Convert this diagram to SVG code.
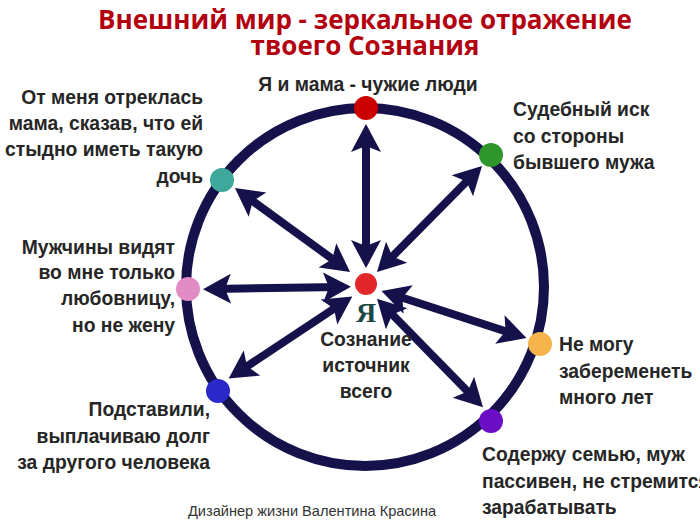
<svg xmlns="http://www.w3.org/2000/svg" width="700" height="525" viewBox="0 0 700 525">
<defs>
<marker id="ah" viewBox="0 -16 29 32" refX="18" refY="0" markerWidth="29" markerHeight="32" markerUnits="userSpaceOnUse" orient="auto-start-reverse">
<path d="M28,0 L0,-15 L6,0 L0,15 Z" fill="#15114a"/>
</marker>
</defs>
<style>
.title{font-family:"Open Sans","Liberation Sans",sans-serif;font-weight:700;font-size:26px;fill:#b3000f;text-anchor:middle}
.lbl{font-family:"Liberation Sans",Arial,sans-serif;font-weight:700;font-size:19.3px;fill:#262626}
.r{text-anchor:end}
.m{text-anchor:middle}
.conn line{stroke:#15114a;stroke-width:8;marker-start:url(#ah);marker-end:url(#ah)}
.foot{font-family:"Liberation Sans",Arial,sans-serif;font-size:14.6px;fill:#333;text-anchor:middle}
</style>
<rect width="700" height="525" fill="#ffffff"/>
<g id="title">
<text class="title" x="365" y="29">Внешний мир - зеркальное отражение</text>
<text class="title" x="365" y="55">твоего Сознания</text>
</g>
<g id="ring">
<circle cx="365" cy="287" r="179" fill="none" stroke="#15114a" stroke-width="10"/>
</g>
<g id="connectors" class="conn">
<line x1="366" y1="134" x2="366" y2="258"/>
<line x1="475" y1="173" x2="384" y2="265"/>
<line x1="243" y1="194" x2="342" y2="266"/>
<line x1="213" y1="289" x2="341" y2="287"/>
<line x1="237" y1="373" x2="344" y2="302"/>
<line x1="517" y1="335" x2="391" y2="294"/>
<line x1="476" y1="400" x2="384" y2="306"/>
</g>
<g id="center">
<circle cx="366" cy="284" r="11" fill="#e3262b"/>
<text x="366" y="322" font-family="Liberation Serif,serif" font-weight="700" font-size="28" fill="#1d4a44" text-anchor="middle">Я</text>
<text class="lbl m" x="366" y="346">Сознание</text>
<text class="lbl m" x="366" y="372">источник</text>
<text class="lbl m" x="366" y="398">всего</text>
</g>
<g id="node-top">
<circle cx="366" cy="108" r="12" fill="#cc0000"/>
<text class="lbl m" x="368" y="91">Я и мама - чужие люди</text>
</g>
<g id="node-green">
<circle cx="491" cy="155" r="12" fill="#2e962b"/>
<text class="lbl" x="513" y="116">Судебный иск</text>
<text class="lbl" x="513" y="143">со стороны</text>
<text class="lbl" x="513" y="169">бывшего мужа</text>
</g>
<g id="node-teal">
<circle cx="222" cy="180" r="12" fill="#3ea99a"/>
<text class="lbl r" x="203" y="104">От меня отреклась</text>
<text class="lbl r" x="203" y="130">мама, сказав, что ей</text>
<text class="lbl r" x="203" y="156">стыдно иметь такую</text>
<text class="lbl r" x="203" y="183">дочь</text>
</g>
<g id="node-pink">
<circle cx="188" cy="289" r="12" fill="#e28cc6"/>
<text class="lbl r" x="175" y="254">Мужчины видят</text>
<text class="lbl r" x="175" y="279">во мне только</text>
<text class="lbl r" x="175" y="305">любовницу,</text>
<text class="lbl r" x="175" y="332">но не жену</text>
</g>
<g id="node-blue">
<circle cx="218" cy="391" r="12" fill="#2a28c9"/>
<text class="lbl r" x="210" y="416">Подставили,</text>
<text class="lbl r" x="210" y="443">выплачиваю долг</text>
<text class="lbl r" x="210" y="469">за другого человека</text>
</g>
<g id="node-orange">
<circle cx="540" cy="344" r="12" fill="#f7b44c"/>
<text class="lbl" x="559" y="351">Не могу</text>
<text class="lbl" x="559" y="378">забеременеть</text>
<text class="lbl" x="559" y="404">много лет</text>
</g>
<g id="node-purple">
<circle cx="491" cy="421" r="12" fill="#6a0fc6"/>
<text class="lbl" x="482" y="461">Содержу семью, муж</text>
<text class="lbl" x="482" y="488">пассивен, не стремится</text>
<text class="lbl" x="482" y="514">зарабатывать</text>
</g>
<g id="footer">
<text class="foot" x="312" y="516">Дизайнер жизни Валентина Красина</text>
</g>
</svg>
